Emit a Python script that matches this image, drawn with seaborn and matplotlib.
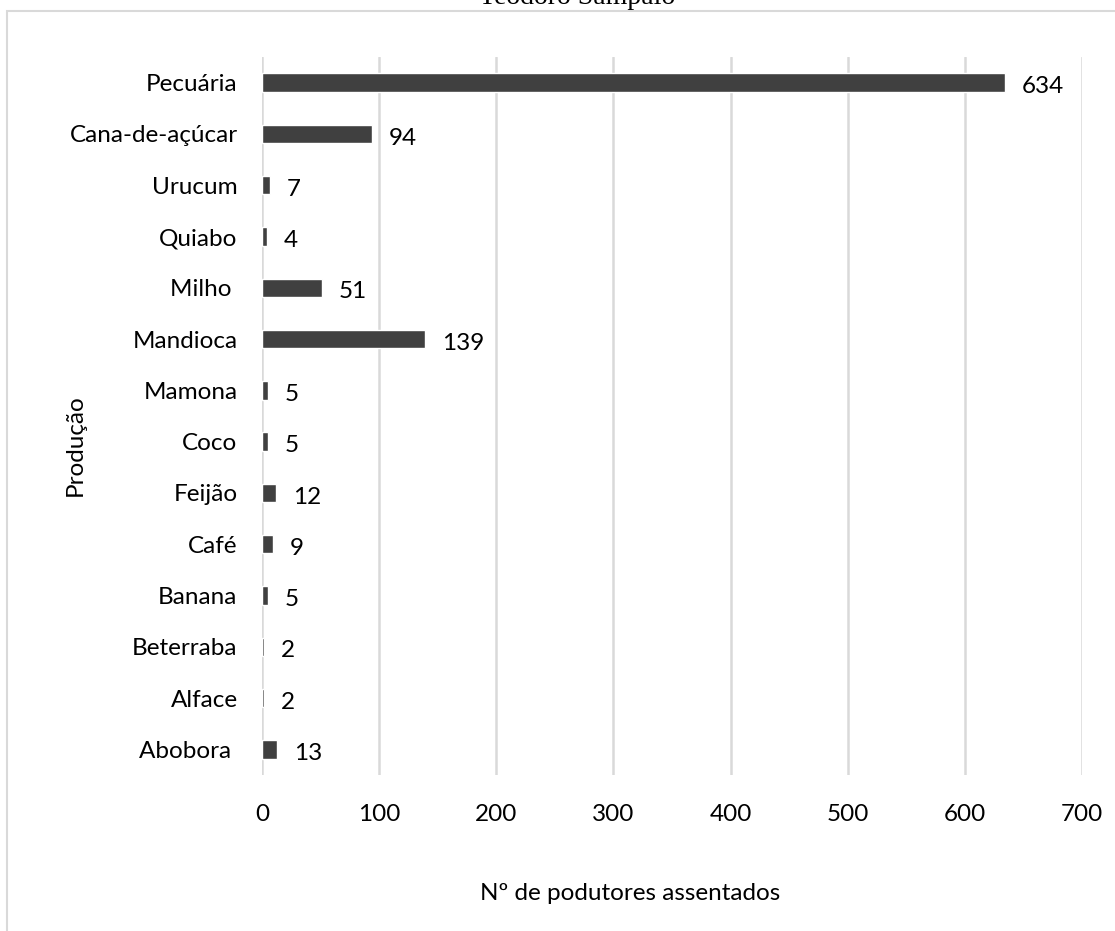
import matplotlib
matplotlib.use("Agg")
import matplotlib.pyplot as plt
from matplotlib.patches import Rectangle
import seaborn as sns
import pandas as pd

# Production types (top to bottom) and number of settled producers
categorias = ["Pecuária", "Cana-de-açúcar", "Urucum", "Quiabo", "Milho ",
              "Mandioca", "Mamona", "Coco", "Feijão", "Café", "Banana",
              "Beterraba", "Alface", "Abobora "]
produtores = [634, 94, 7, 4, 51, 139, 5, 5, 12, 9, 5, 2, 2, 13]
xticks = [0, 100, 200, 300, 400, 500, 600, 700]

titulo = "Teodoro Sampaio"
rotulo_x = "Nº de podutores assentados"
rotulo_y = "Produção"

df = pd.DataFrame({"Produção": categorias, "Produtores": produtores})

sns.set_theme(style="white")
plt.rcParams["font.family"] = ["Lato", "DejaVu Sans"]

FS = 17.5
W, H = 1115, 931
fig = plt.figure(figsize=(W / 100, H / 100), dpi=100)
ax = fig.add_axes([262 / W, 1 - 775 / H, (1082 - 262) / W, (775 - 57) / H])

sns.barplot(data=df, y="Produção", x="Produtores", orient="h",
            color="#404040", saturation=1, width=0.36, ax=ax, zorder=3)

ax.set_xlim(0, 700)
ax.set_xticks(xticks)
ax.set_ylim(len(categorias) - 0.5, -0.5)
ax.grid(axis="x", color="#d9d9d9", linewidth=1.8, zorder=0)
ax.grid(axis="y", visible=False)
for s in ax.spines.values():
    s.set_visible(False)

ax.tick_params(axis="x", length=0, pad=21, labelsize=FS, labelcolor="#000000")
ax.tick_params(axis="y", length=0, pad=17.6, labelsize=FS, labelcolor="#000000")
ax.set_xlabel("")
ax.set_ylabel("")

# value labels at the end of each bar
for i, v in enumerate(produtores):
    ax.annotate(str(v), xy=(v, i), xytext=(12.2, -7.7), textcoords="offset points",
                ha="left", va="baseline", fontsize=FS, color="#000000")

fig.text(630 / W, 1 - 899.5 / H, rotulo_x, ha="center", va="baseline",
         fontsize=FS, color="#000000")
fig.text(75 / W, 1 - 445 / H, rotulo_y, ha="center", va="center",
         rotation=90, fontsize=FS, color="#000000")
fig.text(577 / W, 1 - 4 / H, titulo, ha="center", va="baseline",
         family="Liberation Serif", fontsize=20, color="#000000")

# chart area frame
fig.patches.append(Rectangle((7 / W, -0.1), 2.0, (1 - 11 / H) + 0.1,
                             transform=fig.transFigure, fill=False,
                             edgecolor="#d9d9d9", linewidth=1.5, clip_on=False))

fig.savefig("out.png", dpi=100)
